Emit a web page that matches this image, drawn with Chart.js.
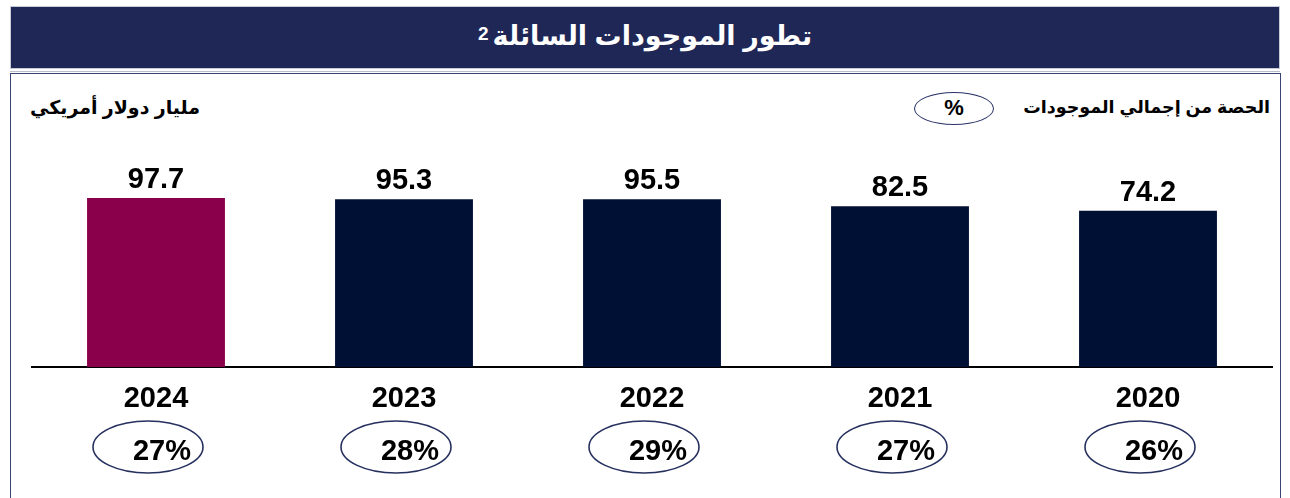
<!DOCTYPE html>
<html lang="ar">
<head>
<meta charset="utf-8">
<script src="https://cdn.jsdelivr.net/npm/chart.js@4.4.1/dist/chart.umd.min.js"></script>
<style>
  html, body { margin:0; padding:0; background:#fff; }
  body { width:1290px; height:498px; position:relative; overflow:hidden; font-family:"Liberation Sans", Arial, "DejaVu Sans", sans-serif; }
  #header { position:absolute; left:10px; top:6px; width:1270px; height:63px; background:#1F2756; border:1px solid #C8CCD8; box-sizing:border-box; }
  #title { position:absolute; left:0; right:0; top:13px; text-align:center; color:#fff; font-weight:bold; font-size:27px; direction:rtl; }
  #title sup { font-size:19px; vertical-align:5px; margin-right:4px; }
  #sep1 { position:absolute; left:10px; top:71px; width:1270px; height:1px; background:#B8BCCB; }
  #frame { position:absolute; left:10px; top:73px; width:1271px; height:440px; border:1.5px solid #3A4470; box-sizing:border-box; }
  #unit { position:absolute; left:30px; top:96px; font-weight:bold; font-size:19px; direction:rtl; color:#000; }
  #share { position:absolute; right:20px; top:97px; font-weight:bold; font-size:17.5px; direction:rtl; color:#000; }
  #pct { position:absolute; left:914px; top:92px; width:80px; height:33px; border:1.5px solid #2A3366; border-radius:50%; box-sizing:border-box; text-align:center; font-weight:bold; font-size:22px; line-height:29px; color:#000; }
  #c { position:absolute; left:0; top:0; }
</style>
</head>
<body>
<div id="header"><div id="title">تطور الموجودات السائلة<sup>2</sup></div></div>
<div id="sep1"></div>
<div id="frame"></div>
<div id="unit">مليار دولار أمريكي</div>
<div id="share">الحصة من إجمالي الموجودات</div>
<div id="pct">%</div>
<canvas id="c" width="1290" height="498"></canvas>
<script>
// Data (chronological)
const years = ["2020", "2021", "2022", "2023", "2024"];
const liquidAssets = [74.2, 82.5, 95.5, 95.3, 97.7];   // billion USD
const shareOfTotal = ["26%", "27%", "29%", "28%", "27%"]; // share of total assets
const barColors = ["#001035", "#001035", "#001035", "#001035", "#8B004B"];

const FONT = '"Liberation Sans", Arial, "DejaVu Sans", sans-serif';

const labelsPlugin = {
  id: 'labelsPlugin',
  afterDatasetsDraw(chart) {
    const ctx = chart.ctx;
    const meta = chart.getDatasetMeta(0);
    ctx.save();
    meta.data.forEach((bar, i) => {
      // value label above bar
      ctx.fillStyle = '#000';
      ctx.font = 'bold 29px ' + FONT;
      ctx.textAlign = 'center';
      ctx.textBaseline = 'alphabetic';
      ctx.fillText(liquidAssets[i].toFixed(1), bar.x, bar.y - 10);
      // share ellipse under year
      const cx = bar.x - 8, cy = 447;
      ctx.beginPath();
      ctx.ellipse(cx, cy, 55, 26, 0, 0, Math.PI * 2);
      ctx.lineWidth = 1.6;
      ctx.strokeStyle = '#26305F';
      ctx.stroke();
      ctx.font = 'bold 29px ' + FONT;
      ctx.textBaseline = 'alphabetic';
      ctx.fillText(shareOfTotal[i], bar.x + 6, cy + 13);
    });
    ctx.restore();
  }
};

new Chart(document.getElementById('c'), {
  type: 'bar',
  data: {
    labels: years,
    datasets: [{
      data: liquidAssets,
      backgroundColor: barColors,
      base: -210,
      categoryPercentage: 1,
      barPercentage: 0.556
    }]
  },
  options: {
    responsive: false,
    animation: false,
    events: [],
    layout: { padding: { left: 32, right: 18, top: 150, bottom: 0 } },
    plugins: { legend: { display: false }, tooltip: { enabled: false } },
    scales: {
      x: {
        reverse: true,
        grid: { display: false, drawTicks: false },
        border: { display: true, color: '#000', width: 2 },
        ticks: { color: '#000', font: { family: FONT, size: 29, weight: 'bold' }, padding: 15, maxRotation: 0 },
        afterFit(scale) { scale.height = 131; }
      },
      y: {
        display: false,
        min: -210,
        max: 185
      }
    }
  },
  plugins: [labelsPlugin]
});
</script>
</body>
</html>
